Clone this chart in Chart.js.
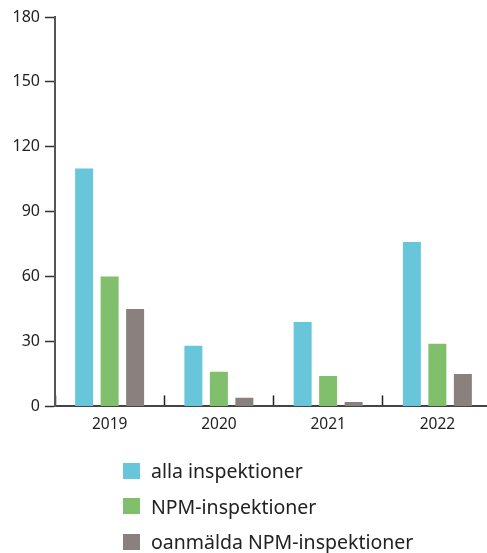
<!DOCTYPE html>
<html>
<head>
<meta charset="utf-8">
<script src="https://cdn.jsdelivr.net/npm/chart.js@4"></script>
<style>
  html, body { margin: 0; padding: 0; background: #fff; overflow: hidden; }
  #wrap { position: relative; width: 487px; height: 553px; overflow: hidden; }
  #chartBox { position: absolute; left: 0; top: 0; width: 492px; height: 454px; }
  #legend { position: absolute; left: 123px; top: 453px; font-family: 'Noto Sans', sans-serif; font-size: 19.5px; color: #222; }
  .row { height: 35.5px; display: flex; align-items: center; }
  .box { width: 17px; height: 16px; margin-right: 11px; }
</style>
</head>
<body>
<div id="wrap">
  <div id="chartBox"><canvas id="myChart"></canvas></div>
  <div id="legend"></div>
</div>
<script>
const years = ['2019', '2020', '2021', '2022'];
const allaInspektioner = [110, 28, 39, 76];
const npmInspektioner = [60, 16, 14, 29];
const oanmaldaNpm = [45, 4, 2, 15];
const seriesNames = ['alla inspektioner', 'NPM-inspektioner', 'oanmälda NPM-inspektioner'];
const seriesColors = ['#67c6d9', '#80bf6b', '#8a817e'];
const yTicks = [0, 30, 60, 90, 120, 150, 180];

const ctx = document.getElementById('myChart');

var barChart = new Chart(ctx, {
    type: 'bar',
    data: {
        labels: years,
        datasets: [allaInspektioner, npmInspektioner, oanmaldaNpm].map(function (vals, i) {
            return {
                label: seriesNames[i],
                data: vals,
                backgroundColor: seriesColors[i],
                categoryPercentage: 0.70,
                barPercentage: 0.706
            };
        })
    },
    options: {
        responsive: true,
        maintainAspectRatio: false,
        animation: false,
        layout: { padding: { top: 17, left: 0, right: 0, bottom: 0 } },
        plugins: {
            legend: { display: false },
            tooltip: { enabled: false }
        },
        scales: {
            x: {
                offset: true,
                grid: { offset: true, drawOnChartArea: false, tickLength: -11, tickColor: '#222', tickWidth: 1.5 },
                border: { color: '#444', width: 2 },
                ticks: { padding: 20, color: '#222', font: { family: 'Noto Sans', size: 15.5 } }
            },
            y: {
                min: 0,
                max: 180,
                afterFit: function (scale) { scale.width = 55; },
                afterBuildTicks: function (scale) { scale.ticks = yTicks.map(function (v) { return { value: v }; }); },
                grid: { drawOnChartArea: false, tickLength: 10, tickColor: '#333', tickWidth: 1.5 },
                border: { color: '#555', width: 2 },
                ticks: { padding: 5, color: '#222', font: { family: 'Noto Sans', size: 16 } }
            }
        }
    }
});

// legend built from the chart's datasets, one per row
var legendEl = document.getElementById('legend');
barChart.data.datasets.forEach(function (ds) {
    var row = document.createElement('div');
    row.className = 'row';
    var box = document.createElement('span');
    box.className = 'box';
    box.style.background = ds.backgroundColor;
    var txt = document.createElement('span');
    txt.textContent = ds.label;
    row.appendChild(box);
    row.appendChild(txt);
    legendEl.appendChild(row);
});
</script>
</body>
</html>
